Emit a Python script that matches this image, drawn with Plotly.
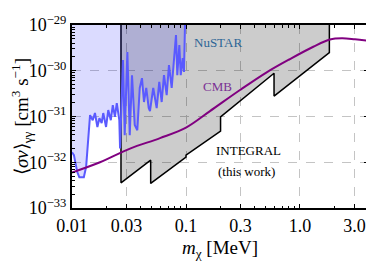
import numpy as np
import plotly.graph_objects as go

# ---------------- data ----------------
nustar_mass = [0.01, 0.0104, 0.0106, 0.0111, 0.0116, 0.0127, 0.0133, 0.0139, 0.0144, 0.0152,
               0.0159, 0.0167, 0.0174, 0.0182, 0.0188, 0.0199, 0.0208, 0.0219, 0.0228, 0.0238,
               0.0247, 0.0260, 0.0264, 0.0280, 0.0290, 0.0306, 0.0321, 0.0336, 0.0355, 0.0374,
               0.0393, 0.0411, 0.0428, 0.0448, 0.0471, 0.0483, 0.0516, 0.0553, 0.0583, 0.0612,
               0.0641, 0.0677, 0.0709, 0.0749, 0.0785, 0.0817, 0.0839, 0.0874, 0.0899, 0.0936,
               0.0960, 0.0980]
nustar_sigma = [1.66e-32, 1.43e-32, 1.11e-32, 6.2e-33, 4.7e-33, 4.7e-33, 7.9e-33, 4.3e-32, 1.07e-31, 8.3e-32,
                1.19e-31, 5.9e-32, 9.2e-32, 7.2e-32, 1.19e-31, 5.9e-32, 1.38e-31, 8.3e-32, 1.77e-31, 9.8e-32,
                1.96e-31, 8.3e-32, 2.0e-32, 1.71e-30, 3.9e-32, 2.56e-30, 3.9e-32, 8.0e-31, 6.5e-32, 5.0e-32,
                4.2e-31, 6.9e-31, 2.07e-31, 4.2e-31, 1.53e-31, 1.31e-31, 4.2e-31, 1.53e-31, 5.7e-31, 2.07e-31,
                8.0e-31, 2.94e-31, 1.33e-30, 4.2e-31, 1.9e-30, 6.0e-30, 8.0e-31, 3.65e-30, 8.0e-31, 1.9e-30,
                9.4e-31, 1.0e-29]

integral_mass = [0.0269, 0.0269, 0.049, 0.049, 0.1, 0.1, 0.201, 0.201, 0.592, 0.592, 1.81, 1.81]
integral_sigma = [1.0e-29, 3.55e-33, 1.11e-32, 3.44e-33, 1.29e-32, 1.43e-32, 4.8e-32, 9.8e-32,
                  8.8e-31, 2.8e-31, 2.48e-30, 1.0e-29]

cmb_mass = [0.01, 0.0176, 0.0323, 0.0592, 0.1, 0.1623, 0.2976, 0.5104, 0.817, 1.308, 1.833,
            2.336, 3.038, 3.95]
cmb_sigma = [5.98e-33, 1.0e-32, 1.99e-32, 3.37e-32, 5.71e-32, 1.31e-31, 3.79e-31, 9.23e-31,
             1.8e-30, 3.35e-30, 4.82e-30, 5.12e-30, 4.87e-30, 4.53e-30]

x_ticks = [0.01, 0.03, 0.1, 0.3, 1.0, 3.0]
x_ticktext = ["0.01", "0.03", "0.1", "0.3", "1.0", "3.0"]
y_ticks = [1e-33, 1e-32, 1e-31, 1e-30, 1e-29]
y_ticktext = ["10<sup>\u221233</sup>", "10<sup>\u221232</sup>", "10<sup>\u221231</sup>",
              "10<sup>\u221230</sup>", "10<sup>\u221229</sup>"]

x_range = [0.01, 3.95]
y_range = [1e-33, 1e-29]

# ---------------- figure ----------------
fig = go.Figure()

# INTEGRAL excluded region
fig.add_trace(go.Scatter(x=integral_mass, y=integral_sigma, mode="lines", fill="toself",
                         fillcolor="rgba(0,0,0,0.2)", line=dict(color="black", width=1.5),
                         hoverinfo="skip"))

# NuSTAR excluded region (fill to top)
fig.add_trace(go.Scatter(x=nustar_mass + [x_range[0]], y=nustar_sigma + [y_range[1]],
                         mode="lines", fill="toself", fillcolor="rgba(0,0,255,0.14)",
                         line=dict(width=0), hoverinfo="skip"))
fig.add_trace(go.Scatter(x=nustar_mass, y=nustar_sigma, mode="lines",
                         line=dict(color="#5a5aff", width=2), hoverinfo="skip"))

# CMB
fig.add_trace(go.Scatter(x=cmb_mass, y=cmb_sigma, mode="lines", line_shape="spline",
                         line=dict(color="#800080", width=2), hoverinfo="skip"))

serif = "Liberation Serif"
fig.add_annotation(x=np.log10(0.189), y=np.log10(4.25e-30), text="NuSTAR", showarrow=False,
                   font=dict(family=serif, size=13, color="#2b6596"))
fig.add_annotation(x=np.log10(0.19), y=-30.35, text="CMB", showarrow=False,
                   font=dict(family=serif, size=13, color="#7b3294"))
fig.add_annotation(x=np.log10(0.35), y=-31.75, text="INTEGRAL", showarrow=False,
                   font=dict(family=serif, size=13, color="black"))
fig.add_annotation(x=np.log10(0.338), y=-32.206, text="(this work)", showarrow=False,
                   font=dict(family=serif, size=13, color="black"))

x_minor = [k * 10.0 ** e for e in (-2, -1, 0) for k in range(2, 10) if k * 10.0 ** e <= 3.95]
y_minor = [k * 10.0 ** e for e in (-33, -32, -31, -30) for k in range(2, 10)]

axis_common = dict(type="log", ticks="inside", ticklen=4, tickwidth=1.2, tickcolor="black",
                   mirror="allticks", showline=True, linecolor="black", linewidth=2,
                   showgrid=True, gridcolor="#c4c4c4", griddash="dash", gridwidth=1,
                   zeroline=False, tickfont=dict(family=serif, size=18, color="black"))

fig.update_xaxes(range=[np.log10(x_range[0]), np.log10(x_range[1])], tickvals=x_ticks,
                 ticktext=x_ticktext,
                 minor=dict(ticks="inside", ticklen=2.5, tickcolor="black", tickvals=x_minor,
                            showgrid=False),
                 title=dict(text="<i>m</i><sub>\u03c7</sub> [MeV]",
                            font=dict(family=serif, size=19, color="black"), standoff=6),
                 **axis_common)
fig.update_yaxes(range=[np.log10(y_range[0]), np.log10(y_range[1])], tickvals=y_ticks,
                 ticktext=y_ticktext,
                 minor=dict(ticks="inside", ticklen=2.5, tickcolor="black", tickvals=y_minor,
                            showgrid=False),
                 title=dict(text="\u27e8<i>\u03c3v</i>\u27e9<sub>\u03b3\u03b3</sub> [cm<sup>3</sup> s<sup>\u22121</sup>]",
                            font=dict(family=serif, size=19, color="black"), standoff=2),
                 **axis_common)

# the page body adds an 8px offset, so the figure is sized/margined to compensate
fig.update_layout(width=366, height=272, margin=dict(l=64, r=6, t=17, b=72, autoexpand=False),
                  plot_bgcolor="white", paper_bgcolor="white", showlegend=False,
                  font=dict(family=serif, color="black"))

fig.write_html("out.html")
